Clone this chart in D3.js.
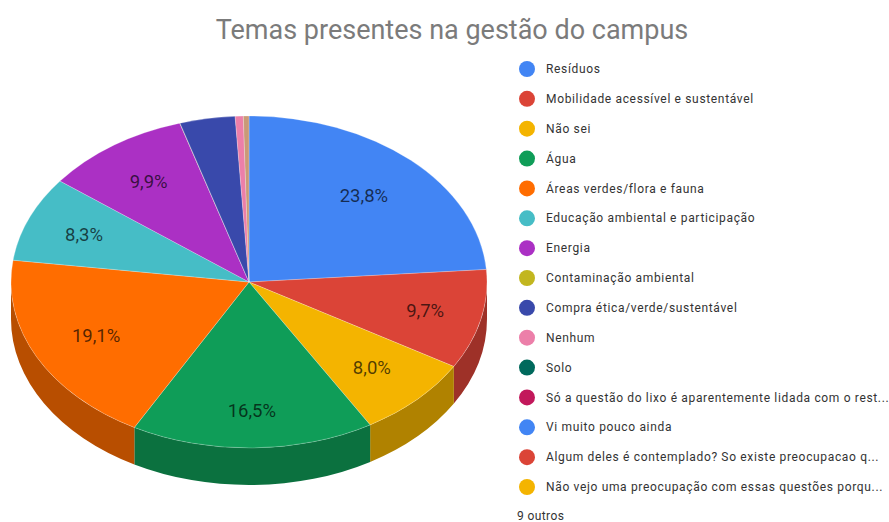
<!DOCTYPE html>
<html>
<head>
<meta charset="utf-8">
<script src="https://cdnjs.cloudflare.com/ajax/libs/d3/7.8.5/d3.min.js"></script>
<style>
  html, body { margin: 0; padding: 0; background: #fff; }
  text { font-family: Roboto, sans-serif; }
</style>
</head>
<body>
<div id="chart"></div>
<script>
var titleText = "Temas presentes na gestão do campus";

var categories = [
  "Resíduos",
  "Mobilidade acessível e sustentável",
  "Não sei",
  "Água",
  "Áreas verdes/flora e fauna",
  "Educação ambiental e participação",
  "Energia",
  "Contaminação ambiental",
  "Compra ética/verde/sustentável",
  "Nenhum",
  "Solo",
  "Só a questão do lixo é aparentemente lidada com o rest...",
  "Vi muito pouco ainda",
  "Algum deles é contemplado? So existe preocupacao q...",
  "Não vejo uma preocupação com essas questões porqu..."
];
var colors = ["#4285f4", "#db4437", "#f4b400", "#0f9d58", "#ff6d00", "#46bdc6", "#ab30c4",
  "#c2b61f", "#3949ab", "#ec7fa9", "#00695c", "#c2185b", "#4285f4", "#db4437", "#f4b400"];

// first ten categories have a readable slice, everything after is lumped in "outros"
var values = [23.8, 9.7, 8.0, 16.5, 19.1, 8.3, 9.9, 0.02, 3.75, 0.55];
var otherValue = 0.38;
var otherColor = "#c99a78";
var otherLabel = "9 outros";

var width = 889, height = 522;
var cx = 249, cy = 282, rx = 238, ry = 166, depth = 37;
// how far out each percent label sits, as a share of the radius
var labelRadius = [0.71, 0.76, 0.73, 0.775, 0.72, 0.75, 0.74];

var svg = d3.select("#chart").append("svg")
  .attr("width", width)
  .attr("height", height)
  .style("display", "block");

svg.append("text")
  .attr("x", 452)
  .attr("y", 39)
  .attr("text-anchor", "middle")
  .attr("font-size", 27)
  .attr("fill", "#7b7b7b")
  .text(titleText);

var slices = values.map(function(v, i) { return { value: v, color: colors[i] }; });
slices.push({ value: otherValue, color: otherColor });

var arcs = d3.pie()
  .sort(null)
  .value(function(d) { return d.value; })(slices);

function px(a, k) { return cx + rx * k * Math.sin(a); }
function py(a, k) { return cy - ry * k * Math.cos(a); }

function wallColor(c) {
  var r = d3.rgb(c);
  return d3.rgb(r.r * 0.72, r.g * 0.72, r.b * 0.72).formatHex();
}

// side wall, only the front half of the ellipse shows
function wallPath(d) {
  var a0 = Math.max(d.startAngle, Math.PI / 2);
  var a1 = Math.min(d.endAngle, Math.PI * 1.5);
  if (a1 <= a0) return null;
  var large = a1 - a0 > Math.PI ? 1 : 0;
  return "M" + px(a0, 1) + "," + py(a0, 1) +
    "A" + rx + "," + ry + " 0 " + large + " 1 " + px(a1, 1) + "," + py(a1, 1) +
    "L" + px(a1, 1) + "," + (py(a1, 1) + depth) +
    "A" + rx + "," + ry + " 0 " + large + " 0 " + px(a0, 1) + "," + (py(a0, 1) + depth) + "Z";
}

svg.append("g").selectAll("path")
  .data(arcs.filter(wallPath))
  .enter().append("path")
  .attr("d", wallPath)
  .attr("fill", function(d) { return wallColor(d.data.color); });

var arc = d3.arc().innerRadius(0).outerRadius(rx);

svg.append("g")
  .attr("transform", "translate(" + cx + "," + cy + ") scale(1," + (ry / rx) + ")")
  .selectAll("path")
  .data(arcs)
  .enter().append("path")
  .attr("d", arc)
  .attr("fill", function(d) { return d.data.color; })
  .attr("stroke", "#fff")
  .attr("stroke-opacity", 0.4)
  .attr("stroke-width", 0.7);

// percent labels, small slices get none
svg.append("g").selectAll("text")
  .data(arcs.filter(function(d) { return d.data.value >= 5; }))
  .enter().append("text")
  .attr("x", function(d, i) { return px((d.startAngle + d.endAngle) / 2, labelRadius[i]); })
  .attr("y", function(d, i) { return py((d.startAngle + d.endAngle) / 2, labelRadius[i]); })
  .attr("dy", "0.35em")
  .attr("text-anchor", "middle")
  .attr("font-size", 18.5)
  .attr("fill", "#000")
  .attr("fill-opacity", 0.68)
  .text(function(d) { return d.data.value.toFixed(1).replace(".", ",") + "%"; });

var legendY = d3.scalePoint()
  .domain(categories)
  .range([69, 487]);

var legend = svg.append("g").selectAll("g")
  .data(categories)
  .enter().append("g")
  .attr("transform", function(d) { return "translate(0," + legendY(d) + ")"; });

legend.append("circle")
  .attr("cx", 527)
  .attr("r", 8)
  .attr("fill", function(d, i) { return colors[i]; });

legend.append("text")
  .attr("x", 546)
  .attr("dy", "0.35em")
  .attr("font-size", 12)
  .attr("letter-spacing", 0.66)
  .attr("fill", "#333")
  .text(function(d) { return d; });

svg.append("text")
  .attr("x", 517)
  .attr("y", 516)
  .attr("dy", "0.35em")
  .attr("font-size", 12)
  .attr("letter-spacing", 0.4)
  .attr("fill", "#333")
  .text(otherLabel);
</script>
</body>
</html>
